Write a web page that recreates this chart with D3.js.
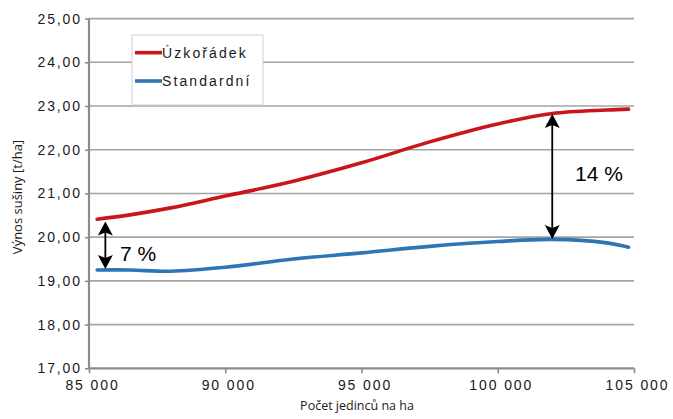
<!DOCTYPE html>
<html><head><meta charset="utf-8">
<script src="https://cdn.jsdelivr.net/npm/d3@7"></script>
<style>body{margin:0;background:#fff}svg{display:block}</style>
</head><body>
<script>
const plantCounts = [85300, 86500, 88000, 90000, 92500, 95000, 97500, 100000, 102000, 104000, 104800];
const narrowRows = [20.41, 20.51, 20.67, 20.94, 21.28, 21.70, 22.18, 22.59, 22.83, 22.91, 22.93];
const standardRows = [19.25, 19.25, 19.22, 19.31, 19.50, 19.64, 19.79, 19.90, 19.95, 19.87, 19.77];
const seriesNames = ["Úzkořádek", "Standardní"];
const yTicks = [17, 18, 19, 20, 21, 22, 23, 24, 25];
const xTicks = [85000, 90000, 95000, 100000, 105000];
const arrows = [
  {x: 85600, from: 20.36, to: 19.27, label: "7 %"},
  {x: 102000, from: 22.82, to: 19.96, label: "14 %"}
];
const colors = ["#c8161d", "#2e75b6"];

const W = 673, H = 419;
const svg = d3.select("body").append("svg").attr("width", W).attr("height", H);
const x = d3.scaleLinear().domain([85000, 105000]).range([89, 634]);
const y = d3.scaleLinear().domain([17, 25]).range([368.3, 18.6]);
const fmtY = d => d.toFixed(2).replace(".", ",");
const fmtX = d => String(d).replace(/(\d)(?=(\d{3})$)/, "$1 ");
const tickFont = "Liberation Sans, Arial, sans-serif";

// gridlines
svg.append("g").selectAll("line").data(yTicks.filter(d => d > 17)).join("line")
  .attr("x1", x(85000)).attr("x2", x(105000))
  .attr("y1", d => y(d)).attr("y2", d => y(d))
  .attr("stroke", "#a3a3a3").attr("stroke-width", 1.6);

// y axis
const yAxis = svg.append("g").attr("transform", `translate(${x(85000)},0)`)
  .call(d3.axisLeft(y).tickValues(yTicks).tickFormat(fmtY).tickSize(4).tickPadding(5));
yAxis.select(".domain").attr("stroke", "#8c8c8c").attr("stroke-width", 2.2).attr("d", `M0,${y(25)}V${y(17)}`);
yAxis.selectAll(".tick line").attr("stroke", "#8c8c8c").attr("stroke-width", 1.6);
yAxis.selectAll("text").attr("font-family", tickFont).attr("font-size", 14)
  .attr("letter-spacing", 1.9).attr("fill", "#1a1a1a").attr("dx", 2);

// x axis
const xAxis = svg.append("g").attr("transform", `translate(0,${y(17)})`)
  .call(d3.axisBottom(x).tickValues(xTicks).tickFormat(fmtX).tickSize(5).tickPadding(7));
xAxis.select(".domain").attr("stroke", "#8c8c8c").attr("stroke-width", 2.2).attr("d", `M${x(85000)},0H${x(105000)}`);
xAxis.selectAll(".tick line").attr("stroke", "#8c8c8c").attr("stroke-width", 1.6);
xAxis.selectAll("text").attr("font-family", tickFont).attr("font-size", 14)
  .attr("letter-spacing", 1.9).attr("fill", "#1a1a1a").attr("dx", 3);

// axis titles
svg.append("text").attr("x", 357).attr("y", 410).attr("text-anchor", "middle")
  .attr("font-family", "Open Sans, sans-serif").attr("font-size", 12.5).attr("fill", "#1a1a1a")
  .text("Počet jedinců na ha");
svg.append("text").attr("transform", "translate(22,197) rotate(-90)").attr("text-anchor", "middle")
  .attr("font-family", "Open Sans, sans-serif").attr("font-size", 13).attr("fill", "#1a1a1a")
  .text("Výnos sušiny [t/ha]");

// lines
const line = d3.line().x(d => x(d[0])).y(d => y(d[1])).curve(d3.curveCatmullRom.alpha(0.5));
[narrowRows, standardRows].forEach((vals, i) => {
  svg.append("path").datum(plantCounts.map((c, j) => [c, vals[j]]))
    .attr("d", line).attr("fill", "none").attr("stroke", colors[i])
    .attr("stroke-width", 3.6).attr("stroke-linecap", "round");
});

// arrows
arrows.forEach(a => {
  const ax = x(a.x), y1 = y(a.from), y2 = y(a.to);
  const g = svg.append("g");
  g.append("line").attr("x1", ax).attr("x2", ax).attr("y1", y1 + 8).attr("y2", y2 - 8)
    .attr("stroke", "#000").attr("stroke-width", 1.8);
  const hw = 7.5, hh = 14;
  g.append("path").attr("d", `M${ax},${y1}L${ax + hw},${y1 + hh}L${ax},${y1 + hh - 3}L${ax - hw},${y1 + hh}Z`).attr("fill", "#000");
  g.append("path").attr("d", `M${ax},${y2}L${ax + hw},${y2 - hh}L${ax},${y2 - hh + 3}L${ax - hw},${y2 - hh}Z`).attr("fill", "#000");
});
svg.append("text").attr("x", 120).attr("y", 260.5).attr("font-family", tickFont)
  .attr("font-size", 21).attr("fill", "#000").text(arrows[0].label);
svg.append("text").attr("x", 575).attr("y", 181).attr("font-family", tickFont)
  .attr("font-size", 21).attr("fill", "#000").text(arrows[1].label);

// legend
const lg = svg.append("g");
lg.append("rect").attr("x", 132).attr("y", 35).attr("width", 131).attr("height", 70)
  .attr("fill", "#fff").attr("stroke", "#d0d0d0").attr("stroke-width", 1);
seriesNames.forEach((n, i) => {
  const ly = 52.7 + i * 28.3;
  lg.append("line").attr("x1", 135).attr("x2", 162).attr("y1", ly).attr("y2", ly)
    .attr("stroke", colors[i]).attr("stroke-width", 3.6);
  lg.append("text").attr("x", 162).attr("y", ly + 5).attr("font-family", tickFont)
    .attr("font-size", 14).attr("letter-spacing", 2.1).attr("fill", "#1a1a1a").text(n);
});
</script>
</body></html>
